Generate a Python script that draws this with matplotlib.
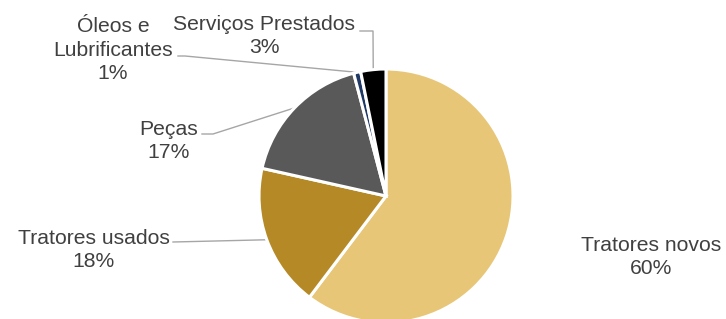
import numpy as np
import matplotlib
matplotlib.use('Agg')
import matplotlib.pyplot as plt

plt.rcParams['font.family'] = ['Liberation Sans', 'DejaVu Sans']

# data
categorias = ['Tratores novos', 'Tratores usados', 'Peças', 'Óleos e\nLubrificantes', 'Serviços Prestados']
valores = [60.3, 18.2, 17.4, 0.9, 3.2]
cores = ['#E8C677', '#B58A26', '#595959', '#1F3864', '#000000']

W, H = 726, 319

def px(x, y):
    # pixel (top-left origin) -> data coords
    return (x, H - y)

fig = plt.figure(figsize=(W / 100, H / 100), dpi=100)
ax = fig.add_axes([0, 0, 1, 1])

centro = px(386, 196)
raio = 127
ax.pie(valores, colors=cores, startangle=90, counterclock=False,
       center=centro, radius=raio, frame=True,
       wedgeprops=dict(edgecolor='white', linewidth=2.2))
ax.set_xlim(0, W)
ax.set_ylim(0, H)
ax.set_aspect('equal')
ax.axis('off')

total = sum(valores)
acum = np.cumsum(valores) - np.array(valores) / 2
angulos = np.deg2rad(90 - 360 * acum / total)
pontos = [(centro[0] + raio * np.cos(a), centro[1] + raio * np.sin(a)) for a in angulos]

# label positions (pixel centres) and leader-line start points
pos_rotulos = [(651, 257), (94, 250), (169, 141), (113, 50), (264, 36)]
guias = [None,
         [(173, 242)],
         [(202, 134), (213, 134)],
         [(178, 56), (185, 56)],
         [(360, 31), (373, 31)]]

cor_texto = '#404040'
for i, nome in enumerate(categorias):
    rot = '%s\n%d%%' % (nome, round(valores[i] / total * 100))
    x, y = px(*pos_rotulos[i])
    ax.text(x, y, rot, ha='center', va='center', multialignment='center',
            fontsize=15.2, color=cor_texto, linespacing=1.3)
    if guias[i] is not None:
        pts = [px(*p) for p in guias[i]] + [pontos[i]]
        xs, ys = zip(*pts)
        ax.plot(xs, ys, color='#A6A6A6', linewidth=1.0, zorder=0.5)

fig.savefig('out.png', dpi=100, facecolor='white')
